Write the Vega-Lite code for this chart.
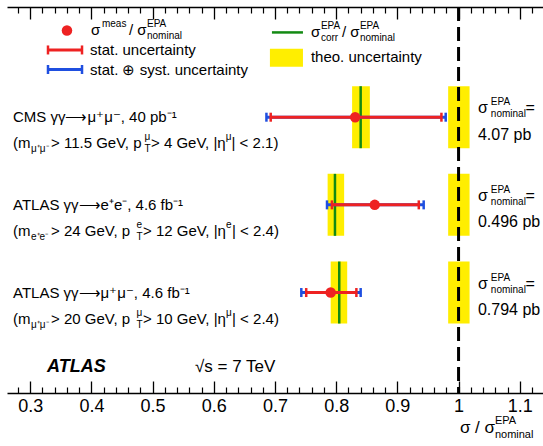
{
  "$schema": "https://vega.github.io/schema/vega-lite/v6.json",
  "width": 536,
  "height": 386,
  "autosize": {"type": "none"},
  "padding": {"left": 7, "top": 7, "right": 0, "bottom": 53},
  "background": "white",
  "config": {"view": {"stroke": null}, "font": "Liberation Sans"},
  "resolve": {"axis": {"x": "independent"}},
  "datasets": {
    "bands": [
      {"y": 3, "lo": 0.826, "hi": 0.855},
      {"y": 2, "lo": 0.786, "hi": 0.813},
      {"y": 1, "lo": 0.791, "hi": 0.818},
      {"y": 3, "lo": 0.983, "hi": 1.018},
      {"y": 2, "lo": 0.983, "hi": 1.018},
      {"y": 1, "lo": 0.983, "hi": 1.018}
    ],
    "meas": [
      {"y": 3, "meas": 0.831, "stat_lo": 0.693, "stat_hi": 0.972, "tot_lo": 0.686, "tot_hi": 0.979, "epa": 0.840},
      {"y": 2, "meas": 0.863, "stat_lo": 0.793, "stat_hi": 0.935, "tot_lo": 0.785, "tot_hi": 0.943, "epa": 0.798},
      {"y": 1, "meas": 0.791, "stat_lo": 0.751, "stat_hi": 0.833, "tot_lo": 0.743, "tot_hi": 0.840, "epa": 0.805}
    ],
    "nominal": [{"x": 1}],
    "txt": [
      {"x": 0.2718, "y": 3, "t": "CMS γγ⟶μ⁺μ⁻, 40 pb⁻¹", "k": "m"},
      {"x": 0.2718, "y": 2.7, "t": "(m", "k": "m"},
      {"x": 0.3012, "y": 2.7, "t": "μ⁺μ⁻", "k": "sub"},
      {"x": 0.3339, "y": 2.7, "t": "\u00a0> 11.5 GeV, p", "k": "m"},
      {"x": 0.4867, "y": 2.7, "t": "μ", "k": "sup"},
      {"x": 0.4867, "y": 2.7, "t": "T", "k": "sub"},
      {"x": 0.4973, "y": 2.7, "t": "\u00a0> 4 GeV, |η", "k": "m"},
      {"x": 0.6195, "y": 2.7, "t": "μ", "k": "sup"},
      {"x": 0.6290, "y": 2.7, "t": "| < 2.1)", "k": "m"},
      {"x": 0.2718, "y": 2, "t": "ATLAS γγ⟶e⁺e⁻, 4.6 fb⁻¹", "k": "m"},
      {"x": 0.2718, "y": 1.7, "t": "(m", "k": "m"},
      {"x": 0.3012, "y": 1.7, "t": "e⁺e⁻", "k": "sub"},
      {"x": 0.3339, "y": 1.7, "t": "\u00a0> 24 GeV, p", "k": "m"},
      {"x": 0.4736, "y": 1.7, "t": "e", "k": "sup"},
      {"x": 0.4736, "y": 1.7, "t": "T", "k": "sub"},
      {"x": 0.4842, "y": 1.7, "t": "\u00a0> 12 GeV, |η", "k": "m"},
      {"x": 0.6199, "y": 1.7, "t": "e", "k": "sup"},
      {"x": 0.6298, "y": 1.7, "t": "| < 2.4)", "k": "m"},
      {"x": 0.2718, "y": 1, "t": "ATLAS γγ⟶μ⁺μ⁻, 4.6 fb⁻¹", "k": "m"},
      {"x": 0.2718, "y": 0.7, "t": "(m", "k": "m"},
      {"x": 0.3012, "y": 0.7, "t": "μ⁺μ⁻", "k": "sub"},
      {"x": 0.3339, "y": 0.7, "t": "\u00a0> 20 GeV, p", "k": "m"},
      {"x": 0.4736, "y": 0.7, "t": "μ", "k": "sup"},
      {"x": 0.4736, "y": 0.7, "t": "T", "k": "sub"},
      {"x": 0.4842, "y": 0.7, "t": "\u00a0> 10 GeV, |η", "k": "m"},
      {"x": 0.6199, "y": 0.7, "t": "μ", "k": "sup"},
      {"x": 0.6298, "y": 0.7, "t": "| < 2.4)", "k": "m"},
      {"x": 1.0316, "y": 3.1, "t": "σ", "k": "r"},
      {"x": 1.0528, "y": 3.1, "t": "EPA", "k": "sup"},
      {"x": 1.0528, "y": 3.1, "t": "nominal", "k": "sub"},
      {"x": 1.1093, "y": 3.1, "t": "=", "k": "r"},
      {"x": 1.0316, "y": 2.8, "t": "4.07 pb", "k": "r"},
      {"x": 1.0316, "y": 2.1, "t": "σ", "k": "r"},
      {"x": 1.0528, "y": 2.1, "t": "EPA", "k": "sup"},
      {"x": 1.0528, "y": 2.1, "t": "nominal", "k": "sub"},
      {"x": 1.1093, "y": 2.1, "t": "=", "k": "r"},
      {"x": 1.0316, "y": 1.8, "t": "0.496 pb", "k": "r"},
      {"x": 1.0316, "y": 1.1, "t": "σ", "k": "r"},
      {"x": 1.0528, "y": 1.1, "t": "EPA", "k": "sup"},
      {"x": 1.0528, "y": 1.1, "t": "nominal", "k": "sub"},
      {"x": 1.1093, "y": 1.1, "t": "=", "k": "r"},
      {"x": 1.0316, "y": 0.8, "t": "0.794 pb", "k": "r"},
      {"x": 0.3993, "y": 3.989, "t": "σ", "k": "m"},
      {"x": 0.4172, "y": 3.989, "t": "meas", "k": "sup"},
      {"x": 0.4613, "y": 3.989, "t": "/ σ", "k": "m"},
      {"x": 0.4908, "y": 3.989, "t": "EPA", "k": "sup"},
      {"x": 0.4908, "y": 3.989, "t": "nominal", "k": "sub"},
      {"x": 0.3976, "y": 3.767, "t": "stat. uncertainty", "k": "m"},
      {"x": 0.3976, "y": 3.544, "t": "stat. ⊕ syst. uncertainty", "k": "m"},
      {"x": 0.7587, "y": 3.967, "t": "σ", "k": "m"},
      {"x": 0.7751, "y": 3.967, "t": "EPA", "k": "sup"},
      {"x": 0.7751, "y": 3.967, "t": "corr", "k": "sub"},
      {"x": 0.8094, "y": 3.967, "t": "/ σ", "k": "m"},
      {"x": 0.8388, "y": 3.967, "t": "EPA", "k": "sup"},
      {"x": 0.8388, "y": 3.967, "t": "nominal", "k": "sub"},
      {"x": 0.7587, "y": 3.689, "t": "theo. uncertainty", "k": "m"},
      {"x": 0.3274, "y": 0.15, "t": "ATLAS", "k": "atlas"},
      {"x": 0.5692, "y": 0.15, "t": "√s = 7 TeV", "k": "sqrt"},
      {"x": 1.0022, "y": -0.55, "t": "σ / σ", "k": "ax"},
      {"x": 1.0594, "y": -0.55, "t": "EPA", "k": "axsup"},
      {"x": 1.0594, "y": -0.55, "t": "nominal", "k": "axsub"}
    ]
  },
  "layer": [
    {
      "data": {"name": "bands"},
      "mark": {"type": "bar", "orient": "horizontal", "height": 62, "color": "#ffee00"},
      "encoding": {
        "x": {"field": "lo", "type": "quantitative", "scale": {"domain": [0.262, 1.138], "nice": false, "zero": false},
          "axis": {"orient": "bottom", "values": [0.3, 0.4, 0.5, 0.6, 0.7, 0.8, 0.9, 1.0, 1.1], "format": ".1~f", "tickSize": -12, "tickWidth": 1.3, "tickColor": "black", "domainColor": "black", "domainWidth": 1.5, "labelFontSize": 18, "labelColor": "black", "labelFont": "Liberation Sans", "labelPadding": 16, "labelFlush": false, "labelOverlap": false, "grid": false, "title": null}},
        "x2": {"field": "hi"},
        "y": {"field": "y", "type": "quantitative", "scale": {"domain": [-0.089, 4.2], "nice": false, "zero": false},
          "axis": {"orient": "left", "ticks": false, "labels": false, "domainColor": "black", "domainWidth": 1.5, "grid": false, "title": null}}
      }
    },
    {
      "data": {"name": "meas"},
      "mark": {"type": "tick", "orient": "vertical", "size": 62, "thickness": 2.5, "color": "#138a13", "opacity": 1},
      "encoding": {
        "x": {"field": "epa", "type": "quantitative", "scale": {"domain": [0.262, 1.138], "nice": false, "zero": false},
          "axis": {"orient": "bottom", "values": [0.28, 0.32, 0.34, 0.36, 0.38, 0.42, 0.44, 0.46, 0.48, 0.52, 0.54, 0.56, 0.58, 0.62, 0.64, 0.66, 0.68, 0.72, 0.74, 0.76, 0.78, 0.82, 0.84, 0.86, 0.88, 0.92, 0.94, 0.96, 0.98, 1.02, 1.04, 1.06, 1.08, 1.12], "tickSize": -6, "tickWidth": 1.2, "tickColor": "black", "labels": false, "domain": false, "grid": false, "title": null}},
        "y": {"field": "y", "type": "quantitative", "scale": {"domain": [-0.089, 4.2], "nice": false, "zero": false}, "axis": null}
      }
    },
    {
      "data": {"name": "nominal"},
      "mark": {"type": "rule", "color": "black", "strokeWidth": 3, "strokeDash": [14, 6]},
      "encoding": {
        "x": {"field": "x", "type": "quantitative", "scale": {"domain": [0.262, 1.138], "nice": false, "zero": false},
          "axis": {"orient": "top", "values": [0.3, 0.4, 0.5, 0.6, 0.7, 0.8, 0.9, 1.0, 1.1], "tickSize": -12, "tickWidth": 1.3, "tickColor": "black", "labels": false, "domainColor": "black", "domainWidth": 1.5, "grid": false, "title": null}}
      }
    },
    {
      "data": {"name": "meas"},
      "mark": {"type": "rule", "color": "#1f4fe0", "strokeWidth": 3},
      "encoding": {
        "x": {"field": "tot_lo", "type": "quantitative", "scale": {"domain": [0.262, 1.138], "nice": false, "zero": false},
          "axis": {"orient": "top", "values": [0.28, 0.32, 0.34, 0.36, 0.38, 0.42, 0.44, 0.46, 0.48, 0.52, 0.54, 0.56, 0.58, 0.62, 0.64, 0.66, 0.68, 0.72, 0.74, 0.76, 0.78, 0.82, 0.84, 0.86, 0.88, 0.92, 0.94, 0.96, 0.98, 1.02, 1.04, 1.06, 1.08, 1.12], "tickSize": -6, "tickWidth": 1.2, "tickColor": "black", "labels": false, "domain": false, "grid": false, "title": null}},
        "x2": {"field": "tot_hi"},
        "y": {"field": "y", "type": "quantitative", "scale": {"domain": [-0.089, 4.2], "nice": false, "zero": false}, "axis": null}
      }
    },
    {
      "data": {"name": "meas"},
      "mark": {"type": "tick", "orient": "vertical", "size": 9, "thickness": 2.5, "color": "#1f4fe0", "opacity": 1},
      "encoding": {
        "x": {"field": "tot_lo", "type": "quantitative", "scale": {"domain": [0.262, 1.138], "nice": false, "zero": false}, "axis": null},
        "y": {"field": "y", "type": "quantitative", "scale": {"domain": [-0.089, 4.2], "nice": false, "zero": false}, "axis": null}
      }
    },
    {
      "data": {"name": "meas"},
      "mark": {"type": "tick", "orient": "vertical", "size": 9, "thickness": 2.5, "color": "#1f4fe0", "opacity": 1},
      "encoding": {
        "x": {"field": "tot_hi", "type": "quantitative", "scale": {"domain": [0.262, 1.138], "nice": false, "zero": false}, "axis": null},
        "y": {"field": "y", "type": "quantitative", "scale": {"domain": [-0.089, 4.2], "nice": false, "zero": false}, "axis": null}
      }
    },
    {
      "data": {"name": "meas"},
      "mark": {"type": "rule", "color": "#ee2222", "strokeWidth": 3},
      "encoding": {
        "x": {"field": "stat_lo", "type": "quantitative", "scale": {"domain": [0.262, 1.138], "nice": false, "zero": false}, "axis": null},
        "x2": {"field": "stat_hi"},
        "y": {"field": "y", "type": "quantitative", "scale": {"domain": [-0.089, 4.2], "nice": false, "zero": false}, "axis": null}
      }
    },
    {
      "data": {"name": "meas"},
      "mark": {"type": "tick", "orient": "vertical", "size": 9, "thickness": 2.5, "color": "#ee2222", "opacity": 1},
      "encoding": {
        "x": {"field": "stat_lo", "type": "quantitative", "scale": {"domain": [0.262, 1.138], "nice": false, "zero": false}, "axis": null},
        "y": {"field": "y", "type": "quantitative", "scale": {"domain": [-0.089, 4.2], "nice": false, "zero": false}, "axis": null}
      }
    },
    {
      "data": {"name": "meas"},
      "mark": {"type": "tick", "orient": "vertical", "size": 9, "thickness": 2.5, "color": "#ee2222", "opacity": 1},
      "encoding": {
        "x": {"field": "stat_hi", "type": "quantitative", "scale": {"domain": [0.262, 1.138], "nice": false, "zero": false}, "axis": null},
        "y": {"field": "y", "type": "quantitative", "scale": {"domain": [-0.089, 4.2], "nice": false, "zero": false}, "axis": null}
      }
    },
    {
      "data": {"name": "meas"},
      "mark": {"type": "circle", "size": 110, "color": "#ee2222", "opacity": 1},
      "encoding": {
        "x": {"field": "meas", "type": "quantitative", "scale": {"domain": [0.262, 1.138], "nice": false, "zero": false}, "axis": null},
        "y": {"field": "y", "type": "quantitative", "scale": {"domain": [-0.089, 4.2], "nice": false, "zero": false}, "axis": null}
      }
    },
    {
      "data": {"values": [{"x": 0.3600, "y": 3.989}]},
      "mark": {"type": "circle", "size": 110, "color": "#ee2222", "opacity": 1},
      "encoding": {
        "x": {"field": "x", "type": "quantitative", "scale": {"domain": [0.262, 1.138], "nice": false, "zero": false}, "axis": null},
        "y": {"field": "y", "type": "quantitative", "scale": {"domain": [-0.089, 4.2], "nice": false, "zero": false}, "axis": null}
      }
    },
    {
      "data": {"values": [{"lo": 0.3290, "hi": 0.3846, "y": 3.544}]},
      "mark": {"type": "rule", "color": "#1f4fe0", "strokeWidth": 3},
      "encoding": {
        "x": {"field": "lo", "type": "quantitative", "scale": {"domain": [0.262, 1.138], "nice": false, "zero": false}, "axis": null},
        "x2": {"field": "hi"},
        "y": {"field": "y", "type": "quantitative", "scale": {"domain": [-0.089, 4.2], "nice": false, "zero": false}, "axis": null}
      }
    },
    {
      "data": {"values": [{"x": 0.3290, "y": 3.544}, {"x": 0.3846, "y": 3.544}]},
      "mark": {"type": "tick", "orient": "vertical", "size": 9, "thickness": 2.5, "color": "#1f4fe0", "opacity": 1},
      "encoding": {
        "x": {"field": "x", "type": "quantitative", "scale": {"domain": [0.262, 1.138], "nice": false, "zero": false}, "axis": null},
        "y": {"field": "y", "type": "quantitative", "scale": {"domain": [-0.089, 4.2], "nice": false, "zero": false}, "axis": null}
      }
    },
    {
      "data": {"values": [{"lo": 0.3290, "hi": 0.3846, "y": 3.767}]},
      "mark": {"type": "rule", "color": "#ee2222", "strokeWidth": 3},
      "encoding": {
        "x": {"field": "lo", "type": "quantitative", "scale": {"domain": [0.262, 1.138], "nice": false, "zero": false}, "axis": null},
        "x2": {"field": "hi"},
        "y": {"field": "y", "type": "quantitative", "scale": {"domain": [-0.089, 4.2], "nice": false, "zero": false}, "axis": null}
      }
    },
    {
      "data": {"values": [{"x": 0.3290, "y": 3.767}, {"x": 0.3846, "y": 3.767}]},
      "mark": {"type": "tick", "orient": "vertical", "size": 9, "thickness": 2.5, "color": "#ee2222", "opacity": 1},
      "encoding": {
        "x": {"field": "x", "type": "quantitative", "scale": {"domain": [0.262, 1.138], "nice": false, "zero": false}, "axis": null},
        "y": {"field": "y", "type": "quantitative", "scale": {"domain": [-0.089, 4.2], "nice": false, "zero": false}, "axis": null}
      }
    },
    {
      "data": {"values": [{"lo": 0.6950, "hi": 0.7457, "y": 3.967}]},
      "mark": {"type": "rule", "color": "#138a13", "strokeWidth": 2.5},
      "encoding": {
        "x": {"field": "lo", "type": "quantitative", "scale": {"domain": [0.262, 1.138], "nice": false, "zero": false}, "axis": null},
        "x2": {"field": "hi"},
        "y": {"field": "y", "type": "quantitative", "scale": {"domain": [-0.089, 4.2], "nice": false, "zero": false}, "axis": null}
      }
    },
    {
      "data": {"values": [{"lo": 0.6917, "hi": 0.7457, "y": 3.678}]},
      "mark": {"type": "bar", "orient": "horizontal", "height": 18, "color": "#ffee00"},
      "encoding": {
        "x": {"field": "lo", "type": "quantitative", "scale": {"domain": [0.262, 1.138], "nice": false, "zero": false}, "axis": null},
        "x2": {"field": "hi"},
        "y": {"field": "y", "type": "quantitative", "scale": {"domain": [-0.089, 4.2], "nice": false, "zero": false}, "axis": null}
      }
    },
    {
      "data": {"name": "txt"},
      "transform": [{"filter": "datum.k == 'm'"}],
      "mark": {"type": "text", "align": "left", "baseline": "middle", "fontSize": 15, "font": "Liberation Sans", "color": "black"},
      "encoding": {
        "x": {"field": "x", "type": "quantitative", "scale": {"domain": [0.262, 1.138], "nice": false, "zero": false}, "axis": null},
        "y": {"field": "y", "type": "quantitative", "scale": {"domain": [-0.089, 4.2], "nice": false, "zero": false}, "axis": null},
        "text": {"field": "t"}
      }
    },
    {
      "data": {"name": "txt"},
      "transform": [{"filter": "datum.k == 'r'"}],
      "mark": {"type": "text", "align": "left", "baseline": "middle", "fontSize": 16, "font": "Liberation Sans", "color": "black"},
      "encoding": {
        "x": {"field": "x", "type": "quantitative", "scale": {"domain": [0.262, 1.138], "nice": false, "zero": false}, "axis": null},
        "y": {"field": "y", "type": "quantitative", "scale": {"domain": [-0.089, 4.2], "nice": false, "zero": false}, "axis": null},
        "text": {"field": "t"}
      }
    },
    {
      "data": {"name": "txt"},
      "transform": [{"filter": "datum.k == 'sup'"}],
      "mark": {"type": "text", "align": "left", "baseline": "middle", "fontSize": 10, "dy": -6, "font": "Liberation Sans", "color": "black"},
      "encoding": {
        "x": {"field": "x", "type": "quantitative", "scale": {"domain": [0.262, 1.138], "nice": false, "zero": false}, "axis": null},
        "y": {"field": "y", "type": "quantitative", "scale": {"domain": [-0.089, 4.2], "nice": false, "zero": false}, "axis": null},
        "text": {"field": "t"}
      }
    },
    {
      "data": {"name": "txt"},
      "transform": [{"filter": "datum.k == 'sub'"}],
      "mark": {"type": "text", "align": "left", "baseline": "middle", "fontSize": 10, "dy": 6, "font": "Liberation Sans", "color": "black"},
      "encoding": {
        "x": {"field": "x", "type": "quantitative", "scale": {"domain": [0.262, 1.138], "nice": false, "zero": false}, "axis": null},
        "y": {"field": "y", "type": "quantitative", "scale": {"domain": [-0.089, 4.2], "nice": false, "zero": false}, "axis": null},
        "text": {"field": "t"}
      }
    },
    {
      "data": {"name": "txt"},
      "transform": [{"filter": "datum.k == 'atlas'"}],
      "mark": {"type": "text", "align": "left", "baseline": "middle", "fontSize": 18, "fontWeight": "bold", "fontStyle": "italic", "font": "Liberation Sans", "color": "black"},
      "encoding": {
        "x": {"field": "x", "type": "quantitative", "scale": {"domain": [0.262, 1.138], "nice": false, "zero": false}, "axis": null},
        "y": {"field": "y", "type": "quantitative", "scale": {"domain": [-0.089, 4.2], "nice": false, "zero": false}, "axis": null},
        "text": {"field": "t"}
      }
    },
    {
      "data": {"name": "txt"},
      "transform": [{"filter": "datum.k == 'sqrt'"}],
      "mark": {"type": "text", "align": "left", "baseline": "middle", "fontSize": 17, "font": "Liberation Sans", "color": "black"},
      "encoding": {
        "x": {"field": "x", "type": "quantitative", "scale": {"domain": [0.262, 1.138], "nice": false, "zero": false}, "axis": null},
        "y": {"field": "y", "type": "quantitative", "scale": {"domain": [-0.089, 4.2], "nice": false, "zero": false}, "axis": null},
        "text": {"field": "t"}
      }
    },
    {
      "data": {"name": "txt"},
      "transform": [{"filter": "datum.k == 'ax'"}],
      "mark": {"type": "text", "align": "left", "baseline": "middle", "fontSize": 17, "font": "Liberation Sans", "color": "black"},
      "encoding": {
        "x": {"field": "x", "type": "quantitative", "scale": {"domain": [0.262, 1.138], "nice": false, "zero": false}, "axis": null},
        "y": {"field": "y", "type": "quantitative", "scale": {"domain": [-0.089, 4.2], "nice": false, "zero": false}, "axis": null},
        "text": {"field": "t"}
      }
    },
    {
      "data": {"name": "txt"},
      "transform": [{"filter": "datum.k == 'axsup'"}],
      "mark": {"type": "text", "align": "left", "baseline": "middle", "fontSize": 11, "dy": -7, "font": "Liberation Sans", "color": "black"},
      "encoding": {
        "x": {"field": "x", "type": "quantitative", "scale": {"domain": [0.262, 1.138], "nice": false, "zero": false}, "axis": null},
        "y": {"field": "y", "type": "quantitative", "scale": {"domain": [-0.089, 4.2], "nice": false, "zero": false}, "axis": null},
        "text": {"field": "t"}
      }
    },
    {
      "data": {"name": "txt"},
      "transform": [{"filter": "datum.k == 'axsub'"}],
      "mark": {"type": "text", "align": "left", "baseline": "middle", "fontSize": 11, "dy": 7, "font": "Liberation Sans", "color": "black"},
      "encoding": {
        "x": {"field": "x", "type": "quantitative", "scale": {"domain": [0.262, 1.138], "nice": false, "zero": false}, "axis": null},
        "y": {"field": "y", "type": "quantitative", "scale": {"domain": [-0.089, 4.2], "nice": false, "zero": false}, "axis": null},
        "text": {"field": "t"}
      }
    }
  ]
}
